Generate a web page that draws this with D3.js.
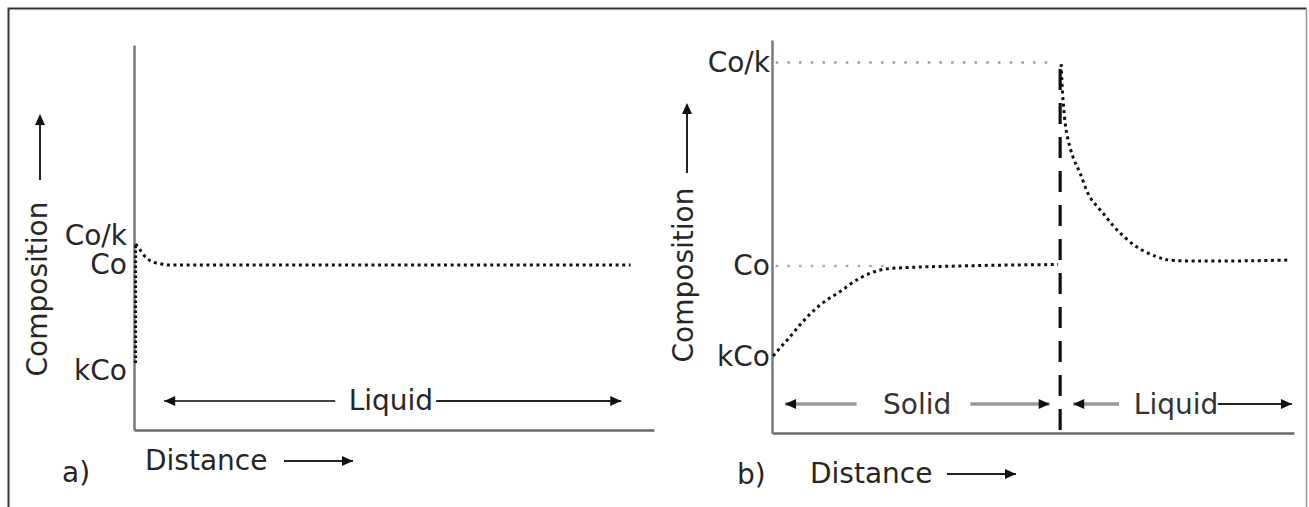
<!DOCTYPE html>
<html>
<head>
<meta charset="utf-8">
<script src="https://cdn.jsdelivr.net/npm/d3@7"></script>
<style>
  html, body { margin: 0; padding: 0; background: #fff; }
  svg { display: block; }
  text { font-family: "DejaVu Sans", sans-serif; }
</style>
</head>
<body>
<svg id="chart" width="1309" height="507"></svg>
<script>
// Composition levels (k ≈ 0.446, Co = 1)
const levelLabels = ["Co/k", "Co", "kCo"];
const levelsB = [2.242, 1.0, 0.446];
// label positions used on the left-hand sketch
const labelPosA = [1.18, 1.0, 0.36];

// a) start of solidification: liquid profile and first solid
const firstSolidA = [[0.3, 0.406], [0.3, 1.12]];
const liquidA = [[0.3, 1.127], [1.2, 1.09], [2.4, 1.042], [3.5, 1.02], [5, 1.008], [6.5, 1.0], [95.5, 1.0]];

// b) steady state: solid and liquid profiles either side of the interface
const interfaceB = 55.2;
const solidB = [[0.2, 0.45], [0.9, 0.476], [3.45, 0.568], [5.9, 0.66], [9.2, 0.762], [13.0, 0.843],
                [16.9, 0.927], [20.7, 0.975], [23.2, 0.986], [36, 1.0], [54.8, 1.009]];
const liquidB = [[55.4, 2.233], [55.75, 2.014], [56.45, 1.812], [57.66, 1.665], [59.0, 1.568], [60.9, 1.421],
                 [63.4, 1.323], [66.1, 1.22], [69.9, 1.116], [73.8, 1.055], [76.2, 1.036], [98.7, 1.036]];

const svg = d3.select("#chart");
const ink = "#262626";

// frame
svg.append("path").attr("d", "M8.5,507V8.5H1306.5").attr("fill", "none").attr("stroke", "#333").attr("stroke-width", 2);
svg.append("line").attr("x1", 1306.5).attr("x2", 1306.5).attr("y1", 9).attr("y2", 507)
  .attr("stroke", "#999").attr("stroke-width", 1.5);

const xA = d3.scaleLinear([0, 100], [134, 654]);
const yA = d3.scaleLinear([0, 2.333], [430, 45]);
const xB = d3.scaleLinear([0, 100], [772, 1294]);
const yB = d3.scaleLinear([-0.02, 2.38], [433, 40]);

function arrowHead(g, x, y, dir) {
  const L = 11, W = 5;
  let p;
  if (dir === "r") p = [[x, y], [x - L, y - W], [x - L, y + W]];
  else if (dir === "l") p = [[x, y], [x + L, y - W], [x + L, y + W]];
  else p = [[x, y], [x - W, y + L], [x + W, y + L]];
  g.append("path").attr("d", "M" + p.join("L") + "Z").attr("fill", "#111");
}
function hArrow(g, x1, x2, y, dir, color, w) {
  g.append("line").attr("x1", x1).attr("x2", x2).attr("y1", y).attr("y2", y)
    .attr("stroke", color).attr("stroke-width", w);
  if (dir === "r") arrowHead(g, x2, y, "r");
  if (dir === "l") arrowHead(g, x1, y, "l");
}

function axes(g, x, y, ticks, labels, pad) {
  const ya = d3.axisLeft(y).tickValues(ticks).tickFormat((d, i) => labels[i]).tickSize(0).tickSizeOuter(0).tickPadding(pad);
  const yg = g.append("g").attr("transform", `translate(${x.range()[0]},0)`).call(ya);
  yg.select(".domain").attr("stroke", "#7a7a7a").attr("stroke-width", 2.5);
  yg.selectAll("text").attr("font-size", 28).attr("fill", ink).attr("font-family", "DejaVu Sans");
  const xa = d3.axisBottom(x).tickValues([]).tickSizeOuter(0);
  const xg = g.append("g").attr("transform", `translate(0,${y.range()[0]})`).call(xa);
  xg.select(".domain").attr("stroke", "#6a6a6a").attr("stroke-width", 2.5);
}

const dotted = (g, data, x, y, curve) => g.append("path")
  .datum(data)
  .attr("d", d3.line().x(d => x(d[0])).y(d => y(d[1])).curve(curve || d3.curveMonotoneX))
  .attr("fill", "none").attr("stroke", "#111").attr("stroke-width", 3).attr("stroke-dasharray", "3,3.6");

// ---------- panel a ----------
const gA = svg.append("g");
axes(gA, xA, yA, labelPosA, levelLabels, 7);
dotted(gA, firstSolidA, xA, yA, d3.curveLinear).attr("stroke-dasharray", "2.5,2.5");
dotted(gA, liquidA, xA, yA);

// region arrow
const yRegA = yA(0.176);
hArrow(gA, xA(5.8), xA(38.7), yRegA, "l", "#444", 2);
gA.append("text").attr("x", xA(49.4)).attr("y", yRegA + 9).attr("text-anchor", "middle")
  .attr("font-size", 28).attr("fill", ink).text("Liquid");
hArrow(gA, xA(58.1), xA(93.7), yRegA, "r", "#222", 2);

// axis titles
gA.append("text").attr("transform", "translate(47,289) rotate(-90)").attr("text-anchor", "middle")
  .attr("font-size", 28).attr("fill", ink).text("Composition");
gA.append("line").attr("x1", 40).attr("x2", 40).attr("y1", 180).attr("y2", 120).attr("stroke", "#222").attr("stroke-width", 2);
arrowHead(gA, 40, 114, "u");
gA.append("text").attr("x", 145).attr("y", 470).attr("font-size", 28).attr("fill", ink).text("Distance");
hArrow(gA, 284, 353, 461, "r", "#222", 2);
gA.append("text").attr("x", 62).attr("y", 482).attr("font-size", 28).attr("fill", ink).text("a)");

// ---------- panel b ----------
const gB = svg.append("g");
axes(gB, xB, yB, levelsB, levelLabels, 2);

// grey guide levels
gB.append("line").attr("x1", xB(0.7)).attr("x2", xB(interfaceB - 1)).attr("y1", yB(levelsB[0])).attr("y2", yB(levelsB[0]))
  .attr("stroke", "#9a9a9a").attr("stroke-width", 2.5).attr("stroke-dasharray", "2.5,9.2");
gB.append("line").attr("x1", xB(0.7)).attr("x2", xB(22)).attr("y1", yB(levelsB[1])).attr("y2", yB(levelsB[1]))
  .attr("stroke", "#a8a8a8").attr("stroke-width", 2.5).attr("stroke-dasharray", "2.5,9.2");

// interface
gB.append("line").attr("x1", xB(interfaceB)).attr("x2", xB(interfaceB))
  .attr("y1", yB(-0.02) - 3).attr("y2", yB(levelsB[0]) - 4)
  .attr("stroke", "#111").attr("stroke-width", 3.2).attr("stroke-dasharray", "21,13");

dotted(gB, solidB, xB, yB);
dotted(gB, liquidB, xB, yB, d3.curveCatmullRom);

// region arrows
const yReg = yB(-0.02) - 29;
hArrow(gB, xB(2.5), xB(16.2), yReg, "l", "#999", 3.5);
gB.append("text").attr("x", xB(27.8)).attr("y", yReg + 10).attr("text-anchor", "middle")
  .attr("font-size", 28).attr("fill", "#333").text("Solid");
hArrow(gB, xB(38), xB(53.2), yReg, "r", "#999", 3.5);
hArrow(gB, xB(57.7), xB(66.5), yReg, "l", "#999", 3.5);
gB.append("text").attr("x", xB(77.4)).attr("y", yReg + 10).attr("text-anchor", "middle")
  .attr("font-size", 28).attr("fill", "#333").text("Liquid");
hArrow(gB, xB(85.4), xB(99.6), yReg, "r", "#222", 2);

// axis titles
gB.append("text").attr("transform", "translate(693,275) rotate(-90)").attr("text-anchor", "middle")
  .attr("font-size", 28).attr("fill", ink).text("Composition");
gB.append("line").attr("x1", 687).attr("x2", 687).attr("y1", 173).attr("y2", 110).attr("stroke", "#222").attr("stroke-width", 2);
arrowHead(gB, 687, 103, "u");
gB.append("text").attr("x", 810).attr("y", 483).attr("font-size", 28).attr("fill", ink).text("Distance");
hArrow(gB, 947, 1016, 474, "r", "#222", 2);
gB.append("text").attr("x", 737).attr("y", 484).attr("font-size", 28).attr("fill", ink).text("b)");
</script>
</body>
</html>
